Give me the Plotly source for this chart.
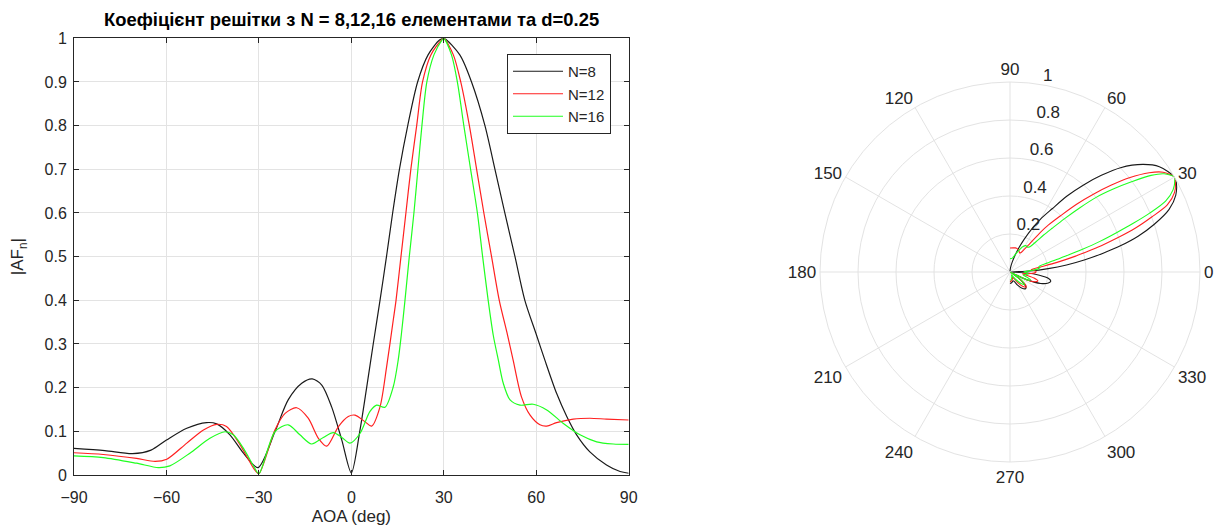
import plotly.graph_objects as go

# ---------------- data ----------------
aoa_n8 = [-90, -80, -71, -65, -60, -53.4, -47, -43.7, -39.4, -35, -30.3, -24.8, -20.5,
          -16.1, -12.7, -9.6, -6.4, -3.1, 0, 2.8, 5.0, 7.1, 9.3, 11.4, 13.4, 15.6,
          18.3, 21.5, 24.9, 28.6, 30, 35.2, 39.0, 43.35, 46.6, 49.8, 53.1, 56.3, 60.1,
          62.8, 66.6, 69.9, 73.1, 77.4, 82.8, 87.2, 90]
af_n8 = [0.061, 0.056, 0.049, 0.057, 0.080, 0.107, 0.120, 0.117, 0.092, 0.050, 0.017,
         0.099, 0.172, 0.210, 0.220, 0.206, 0.156, 0.080, 0.005, 0.103, 0.202, 0.300,
         0.400, 0.500, 0.600, 0.700, 0.800, 0.900, 0.962, 0.996, 1.000, 0.962,
         0.900, 0.800, 0.700, 0.600, 0.500, 0.400, 0.320, 0.263, 0.187, 0.134, 0.092,
         0.053, 0.023, 0.008, 0.004]

aoa_n12 = [-90, -80.5, -69.7, -63.7, -59.9, -53.4, -48, -43.7, -40.5, -36.1, -31.3, -30,
           -24.8, -21.5, -17.75, -14, -10.7, -8, -4.2, -1, 1.2, 4.4, 6.6, 9.3, 11.45,
           13.6, 14.5, 16.1, 17.7, 19.3, 21.2, 23.1, 25.8, 29.2, 30, 33.1, 35.5, 38.3,
           40.65, 43.0, 45.5, 48.0, 50.7, 52.5, 55.2, 58, 61.2, 63.4, 66.6, 72, 77.4,
           82.8, 90]
af_n12 = [0.051, 0.047, 0.038, 0.031, 0.036, 0.073, 0.103, 0.116, 0.111, 0.069, 0.011,
          0.003, 0.103, 0.141, 0.154, 0.130, 0.084, 0.066, 0.111, 0.134, 0.137, 0.122,
          0.112, 0.156, 0.248, 0.355, 0.400, 0.500, 0.600, 0.700, 0.800, 0.900,
          0.962, 0.996, 1.000, 0.962, 0.900, 0.800, 0.700, 0.600, 0.500, 0.400, 0.320,
          0.263, 0.179, 0.137, 0.115, 0.112, 0.120, 0.128, 0.130, 0.128, 0.126]

aoa_n16 = [-90, -80.5, -69.7, -62.6, -58.9, -52.4, -45.9, -41, -38.3, -35, -31.3, -30,
           -24.8, -20.5, -16.7, -12.9, -9.1, -5.85, -3.1, -0.45, 2.8, 6.0, 8.2, 10.9,
           13.6, 15.2, 16.2, 17.4, 18.8, 20.3, 21.6, 22.9, 24.5, 26.8, 29.4, 30, 32.5,
           34.4, 36.5, 38.7, 40.9, 42.6, 44.4, 46.05, 47.7, 49.3, 51.5, 54.7, 59, 63.4,
           68.8, 74.2, 79.6, 85, 90]
af_n16 = [0.044, 0.040, 0.027, 0.017, 0.021, 0.050, 0.084, 0.099, 0.092, 0.061, 0.015,
          0.003, 0.099, 0.115, 0.092, 0.071, 0.086, 0.097, 0.086, 0.073, 0.095, 0.145,
          0.160, 0.155, 0.202, 0.263, 0.320, 0.400, 0.500, 0.600, 0.700, 0.800,
          0.900, 0.962, 0.996, 1.000, 0.962, 0.900, 0.800, 0.700, 0.600, 0.500, 0.400,
          0.320, 0.263, 0.210, 0.172, 0.160, 0.162, 0.149, 0.118, 0.092, 0.076, 0.071,
          0.070]

series_names = ["N=8", "N=12", "N=16"]
series_colors = ["#1a1a1a", "#ff2020", "#20ff20"]
x_ticks = [-90, -60, -30, 0, 30, 60, 90]
y_ticks = [0, 0.1, 0.2, 0.3, 0.4, 0.5, 0.6, 0.7, 0.8, 0.9, 1]
r_ticks = [0.2, 0.4, 0.6, 0.8, 1]
r_tick_labels = ["0.2", "0.4", "0.6", "0.8", "1"]
theta_ticks = list(range(0, 360, 30))

title_text = "Коефіцієнт решітки з N = 8,12,16 елементами та d=0.25"
x_title = "AOA (deg)"
y_title = "|AF<sub>n</sub>|"

# ---------------- figure ----------------
W, H = 1225, 528
FONT = "Liberation Sans, Arial, sans-serif"
AX = "#262626"
GRID = "#e3e3e3"
R_LABEL_ANGLE = 80

fig = go.Figure()
all_x = [aoa_n8, aoa_n12, aoa_n16]
all_y = [af_n8, af_n12, af_n16]

for xs, ys, name, col in zip(all_x, all_y, series_names, series_colors):
    fig.add_trace(go.Scatter(x=xs, y=ys, mode="lines", name=name,
                             line=dict(color=col, width=1.2, shape="spline", smoothing=0.8),
                             xaxis="x", yaxis="y"))
for xs, ys, name, col in zip(all_x, all_y, series_names, series_colors):
    fig.add_trace(go.Scatterpolar(theta=xs, r=ys, mode="lines", name=name,
                                  line=dict(color=col, width=1.1, shape="spline", smoothing=0.8),
                                  showlegend=False, subplot="polar"))

# radial tick labels (MATLAB style: above-right of each ring on the 80° spoke)
fig.add_trace(go.Scatterpolar(r=r_ticks, theta=[R_LABEL_ANGLE] * len(r_ticks),
                              mode="text", text=r_tick_labels, textposition="top right",
                              textfont=dict(size=17, color=AX, family=FONT),
                              showlegend=False, hoverinfo="skip", subplot="polar",
                              cliponaxis=False))

x0, x1 = 74 / W, 628.7 / W
y0, y1 = (H - 475) / H, (H - 38.3) / H

fig.update_layout(
    width=W, height=H, autosize=False,
    margin=dict(l=0, r=0, t=0, b=0, autoexpand=False),
    paper_bgcolor="white", plot_bgcolor="white",
    font=dict(family=FONT, size=16, color=AX),
    showlegend=True,
    xaxis=dict(domain=[x0, x1], range=[-90, 90], tickvals=x_ticks, automargin=False,
               showline=True, linecolor=AX, linewidth=1, mirror="ticks",
               ticks="inside", ticklen=5, tickcolor=AX, ticklabelstandoff=8,
               showgrid=True, gridcolor=GRID, gridwidth=1, zeroline=False,
               tickfont=dict(size=16, color=AX),
               title=dict(text=x_title, font=dict(size=17, color=AX), standoff=4),
               anchor="y"),
    yaxis=dict(domain=[y0, y1], range=[0, 1], tickvals=y_ticks, automargin=False,
               showline=True, linecolor=AX, linewidth=1, mirror="ticks",
               ticks="inside", ticklen=5, tickcolor=AX, ticklabelstandoff=3,
               showgrid=True, gridcolor=GRID, gridwidth=1, zeroline=False,
               tickfont=dict(size=16, color=AX),
               title=dict(text=y_title, font=dict(size=17, color=AX), standoff=16),
               anchor="x"),
    legend=dict(x=611 / W, xanchor="right", y=1 - 54 / H, yanchor="top",
                bgcolor="white", bordercolor=AX, borderwidth=1, itemwidth=50,
                font=dict(size=15, color=AX), tracegroupgap=0),
    polar=dict(
        domain=dict(x=[820 / W, 1200 / W], y=[(H - 462) / H, (H - 82) / H]),
        bgcolor="white",
        radialaxis=dict(range=[0, 1], tickvals=r_ticks, angle=R_LABEL_ANGLE,
                        showticklabels=False, showline=False, ticks="", gridcolor=GRID),
        angularaxis=dict(tickvals=theta_ticks, direction="counterclockwise", rotation=0,
                         showline=True, linecolor=GRID, gridcolor=GRID, ticks="",
                         tickfont=dict(size=17, color=AX)),
    ),
    annotations=[dict(text="<b>" + title_text + "</b>", x=(x0 + x1) / 2, y=1 - 20 / H,
                      xref="paper", yref="paper", xanchor="center", yanchor="middle",
                      showarrow=False,
                      font=dict(size=18.4, color="black", family=FONT))],
)

fig.write_html("out.html", config={"displayModeBar": False},
               post_script="document.body.style.margin='0';")
